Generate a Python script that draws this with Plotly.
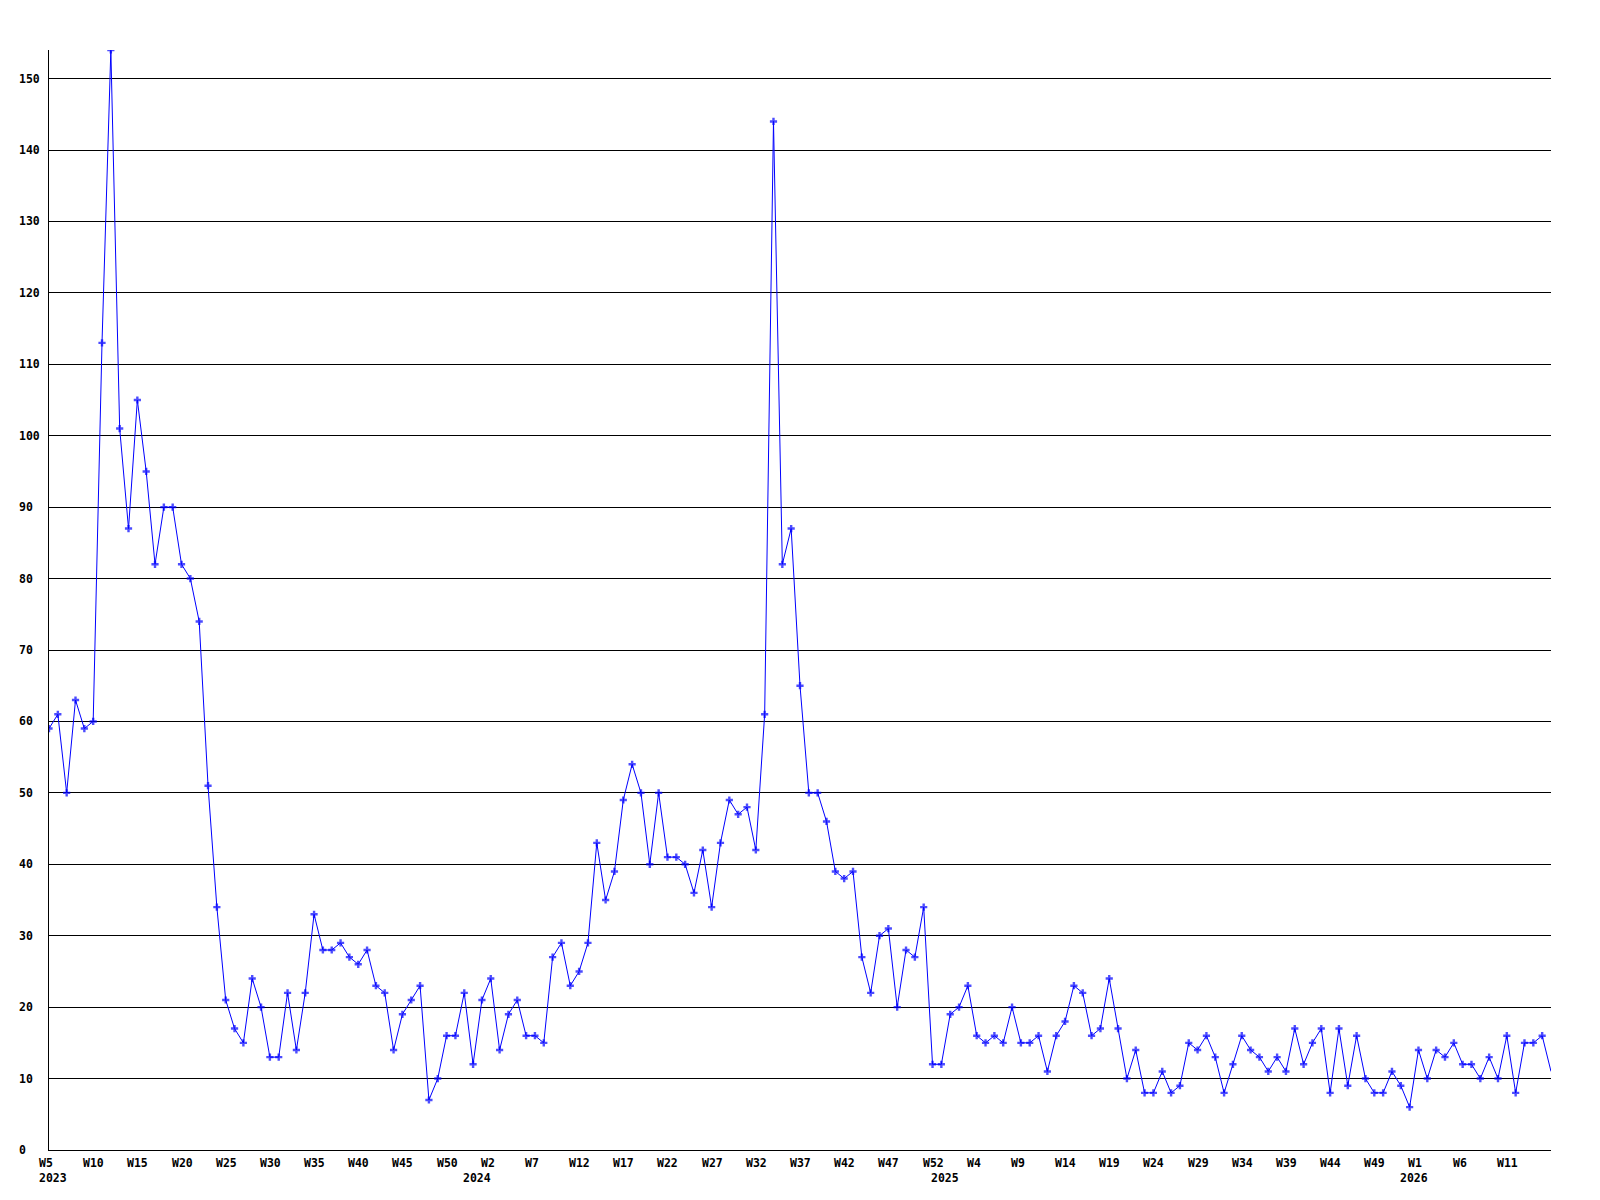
import plotly.graph_objects as go

# Weekly values, 2023 W5 onward
values = [
    59, 61, 50, 63, 59, 60, 113, 154, 101, 87,
    105, 95, 82, 90, 90, 82, 80, 74, 51, 34,
    21, 17, 15, 24, 20, 13, 13, 22, 14, 22,
    33, 28, 28, 29, 27, 26, 28, 23, 22, 14,
    19, 21, 23, 7, 10, 16, 16, 22, 12, 21,
    24, 14, 19, 21, 16, 16, 15, 27, 29, 23,
    25, 29, 43, 35, 39, 49, 54, 50, 40, 50,
    41, 41, 40, 36, 42, 34, 43, 49, 47, 48,
    42, 61, 144, 82, 87, 65, 50, 50, 46, 39,
    38, 39, 27, 22, 30, 31, 20, 28, 27, 34,
    12, 12, 19, 20, 23, 16, 15, 16, 15, 20,
    15, 15, 16, 11, 16, 18, 23, 22, 16, 17,
    24, 17, 10, 14, 8, 8, 11, 8, 9, 15,
    14, 16, 13, 8, 12, 16, 14, 13, 11, 13,
    11, 17, 12, 15, 17, 8, 17, 9, 16, 10,
    8, 8, 11, 9, 6, 14, 10, 14, 13, 15,
    12, 12, 10, 13, 10, 16, 8, 15, 15, 16, 11,
]

# Week tick labels (one every 5 points)
week_tick_labels = [
    "W5", "W10", "W15", "W20", "W25", "W30", "W35", "W40", "W45", "W50",
    "W2", "W7", "W12", "W17", "W22", "W27", "W32", "W37", "W42", "W47", "W52",
    "W4", "W9", "W14", "W19", "W24", "W29", "W34", "W39", "W44", "W49",
    "W1", "W6", "W11",
]
TICK_STEP = 5

# Year labels and the point index where each year starts
year_labels = ["2023", "2024", "2025", "2026"]
year_start_index = [0, 48, 101, 154]

y_tick_values = list(range(0, 151, 10))

x_idx = list(range(len(values)))
tick_idx = [i * TICK_STEP for i in range(len(week_tick_labels))]

FONT = dict(family="DejaVu Sans Mono", size=11.5, color="black", weight="bold")

marker_sizes = [6] * len(values)
marker_sizes[-1] = 0

fig = go.Figure()
fig.add_trace(go.Scatter(
    x=x_idx, y=values, mode="lines+markers",
    line=dict(color="#0000FF", width=1),
    marker=dict(symbol="cross", size=marker_sizes, color="#0000FF",
                line=dict(width=0)),
    hoverinfo="x+y", showlegend=False,
))

annotations = []
for t, lab in zip(tick_idx, week_tick_labels):
    annotations.append(dict(
        x=t, y=0, xref="x", yref="paper", text=lab, showarrow=False,
        xanchor="left", yanchor="top", xshift=-12, yshift=-4, font=FONT,
    ))
for t, lab in zip(year_start_index, year_labels):
    annotations.append(dict(
        x=t, y=0, xref="x", yref="paper", text=lab, showarrow=False,
        xanchor="left", yanchor="top", xshift=-12, yshift=-19, font=FONT,
    ))
for v in y_tick_values:
    annotations.append(dict(
        x=0, y=v, xref="paper", yref="y", text=str(v), showarrow=False,
        xanchor="left", yanchor="middle", xshift=-32, font=FONT,
    ))

fig.update_layout(
    width=1584, height=1184,
    margin=dict(l=41, r=41, t=42, b=42, pad=0),
    paper_bgcolor="white", plot_bgcolor="white",
    annotations=annotations,
    xaxis=dict(
        range=[0, len(values) - 1], showgrid=False, zeroline=False,
        showline=True, linecolor="black", linewidth=1,
        showticklabels=False, ticks="",
    ),
    yaxis=dict(
        range=[0, max(values)], tickvals=y_tick_values, showgrid=True,
        gridcolor="black", gridwidth=1, zeroline=False,
        showline=True, linecolor="black", linewidth=1,
        showticklabels=False, ticks="",
    ),
)

fig.write_html("out.html")
